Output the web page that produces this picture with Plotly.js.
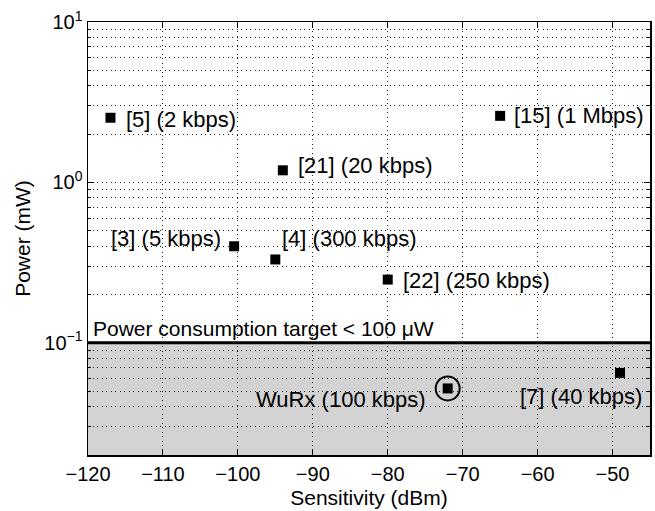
<!DOCTYPE html>
<html>
<head>
<meta charset="utf-8">
<script src="https://cdn.plot.ly/plotly-3.0.1.min.js"></script>
<style>html,body{margin:0;padding:0;background:#fff;}#chart{width:655px;height:511px;}</style>
</head>
<body>
<div id="chart"></div>
<script>
// Data
const labels = ["[5] (2 kbps)", "[21] (20 kbps)", "[15] (1 Mbps)", "[3] (5 kbps)", "[4] (300 kbps)", "[22] (250 kbps)", "WuRx (100 kbps)", "[7] (40 kbps)"];
const sensitivity = [-117, -94, -65, -100.5, -95, -80, -72, -49];   // dBm
const power = [2.53, 1.19, 2.6, 0.40, 0.331, 0.248, 0.052, 0.065];  // mW
const highlightIndex = 6; // WuRx
const powerTarget = 0.1;  // mW
const powerFloor = 0.02;  // mW, bottom of axis
const targetLabel = "Power consumption target < 100 \u03bcW";
const xTicks = [-120, -110, -100, -90, -80, -70, -60, -50];
const xTickText = ["\u2212120", "\u2212110", "\u2212100", "\u221290", "\u221280", "\u221270", "\u221260", "\u221250"];
const yTicks = [0.1, 1, 10];
const yTickText = ["10<sup>\u22121</sup>", "10<sup>0</sup>", "10<sup>1</sup>"];
const yMinor = [0.02,0.03,0.04,0.05,0.06,0.07,0.08,0.09,0.2,0.3,0.4,0.5,0.6,0.7,0.8,0.9,2,3,4,5,6,7,8,9];

// label placement (pixel offsets; styling only)
const labelStyle = [
  {xanchor:"left", xshift:14, yshift:-2},
  {xanchor:"left", xshift:13, yshift:5},
  {xanchor:"left", xshift:12, yshift:0},
  {xanchor:"right", xshift:-11, yshift:8},
  {xanchor:"left", xshift:5, yshift:21},
  {xanchor:"left", xshift:13, yshift:-1},
  {xanchor:"right", xshift:-20, yshift:-11},
  {xanchor:"right", xshift:24, yshift:-24}
];

const FAM = "Liberation Sans, Arial, sans-serif";
const font = {family: FAM, size: 21, color: "#000"};
const labelFont = {family: FAM, size: 22, color: "#000"};
const tickFont = {family: FAM, size: 20, color: "#000"};
const DOT = "1px,3.5px";
const GRIDC = "#222";

const traces = [
  {
    x: sensitivity, y: power, type: "scatter", mode: "markers",
    marker: {symbol: "square", size: 10, color: "#000"},
    hoverinfo: "skip", showlegend: false
  },
  {
    x: [sensitivity[highlightIndex]], y: [power[highlightIndex]], type: "scatter", mode: "markers",
    marker: {symbol: "circle-open", size: 24, color: "#000", line: {width: 2, color: "#000"}},
    hoverinfo: "skip", showlegend: false
  }
];

const annotations = labels.map((t, i) => Object.assign({
  x: sensitivity[i], y: Math.log10(power[i]), xref: "x", yref: "y",
  text: t, showarrow: false, font: labelFont, yanchor: "middle"
}, labelStyle[i]));
annotations.push({
  x: 0, xref: "paper", y: Math.log10(powerTarget), yref: "y",
  text: targetLabel, showarrow: false, font: font,
  xanchor: "left", yanchor: "bottom", xshift: 3, yshift: 1
});

const layout = {
  width: 655, height: 511,
  margin: {l: 88, r: 5, t: 22, b: 56},
  paper_bgcolor: "#fff", plot_bgcolor: "#fff",
  font: font,
  showlegend: false,
  xaxis: {
    range: [-120, -45], tickmode: "array", tickvals: xTicks, ticktext: xTickText,
    showgrid: true, griddash: DOT, gridcolor: GRIDC, gridwidth: 1,
    ticks: "inside", ticklen: 6, tickcolor: "#000",
    showline: true, linecolor: "#000", linewidth: 1.5, mirror: "ticks",
    zeroline: false,
    title: {text: "Sensitivity (dBm)", font: font, standoff: 7},
    tickfont: tickFont
  },
  yaxis: {
    type: "log", range: [Math.log10(powerFloor), 1],
    tickmode: "array", tickvals: yTicks, ticktext: yTickText,
    showgrid: true, griddash: DOT, gridcolor: GRIDC, gridwidth: 1,
    ticks: "inside", ticklen: 6, tickcolor: "#000",
    showline: true, linecolor: "#000", linewidth: 1.5, mirror: "ticks",
    zeroline: false,
    minor: {tickmode: "array", tickvals: yMinor, showgrid: true, griddash: DOT, gridcolor: GRIDC, gridwidth: 1, ticks: "inside", ticklen: 3, tickcolor: "#000"},
    title: {text: "Power (mW)", font: font, standoff: 8},
    tickfont: tickFont
  },
  shapes: [
    {type: "rect", xref: "paper", x0: 0, x1: 1, yref: "y", y0: powerFloor, y1: powerTarget,
     fillcolor: "#d3d3d3", line: {width: 0}, layer: "below"},
    {type: "line", xref: "paper", x0: 0, x1: 1, yref: "y", y0: powerTarget, y1: powerTarget,
     line: {color: "#000", width: 3}, layer: "above"}
  ],
  annotations: annotations
};

Plotly.newPlot("chart", traces, layout, {staticPlot: true, displayModeBar: false});
</script>
</body>
</html>
